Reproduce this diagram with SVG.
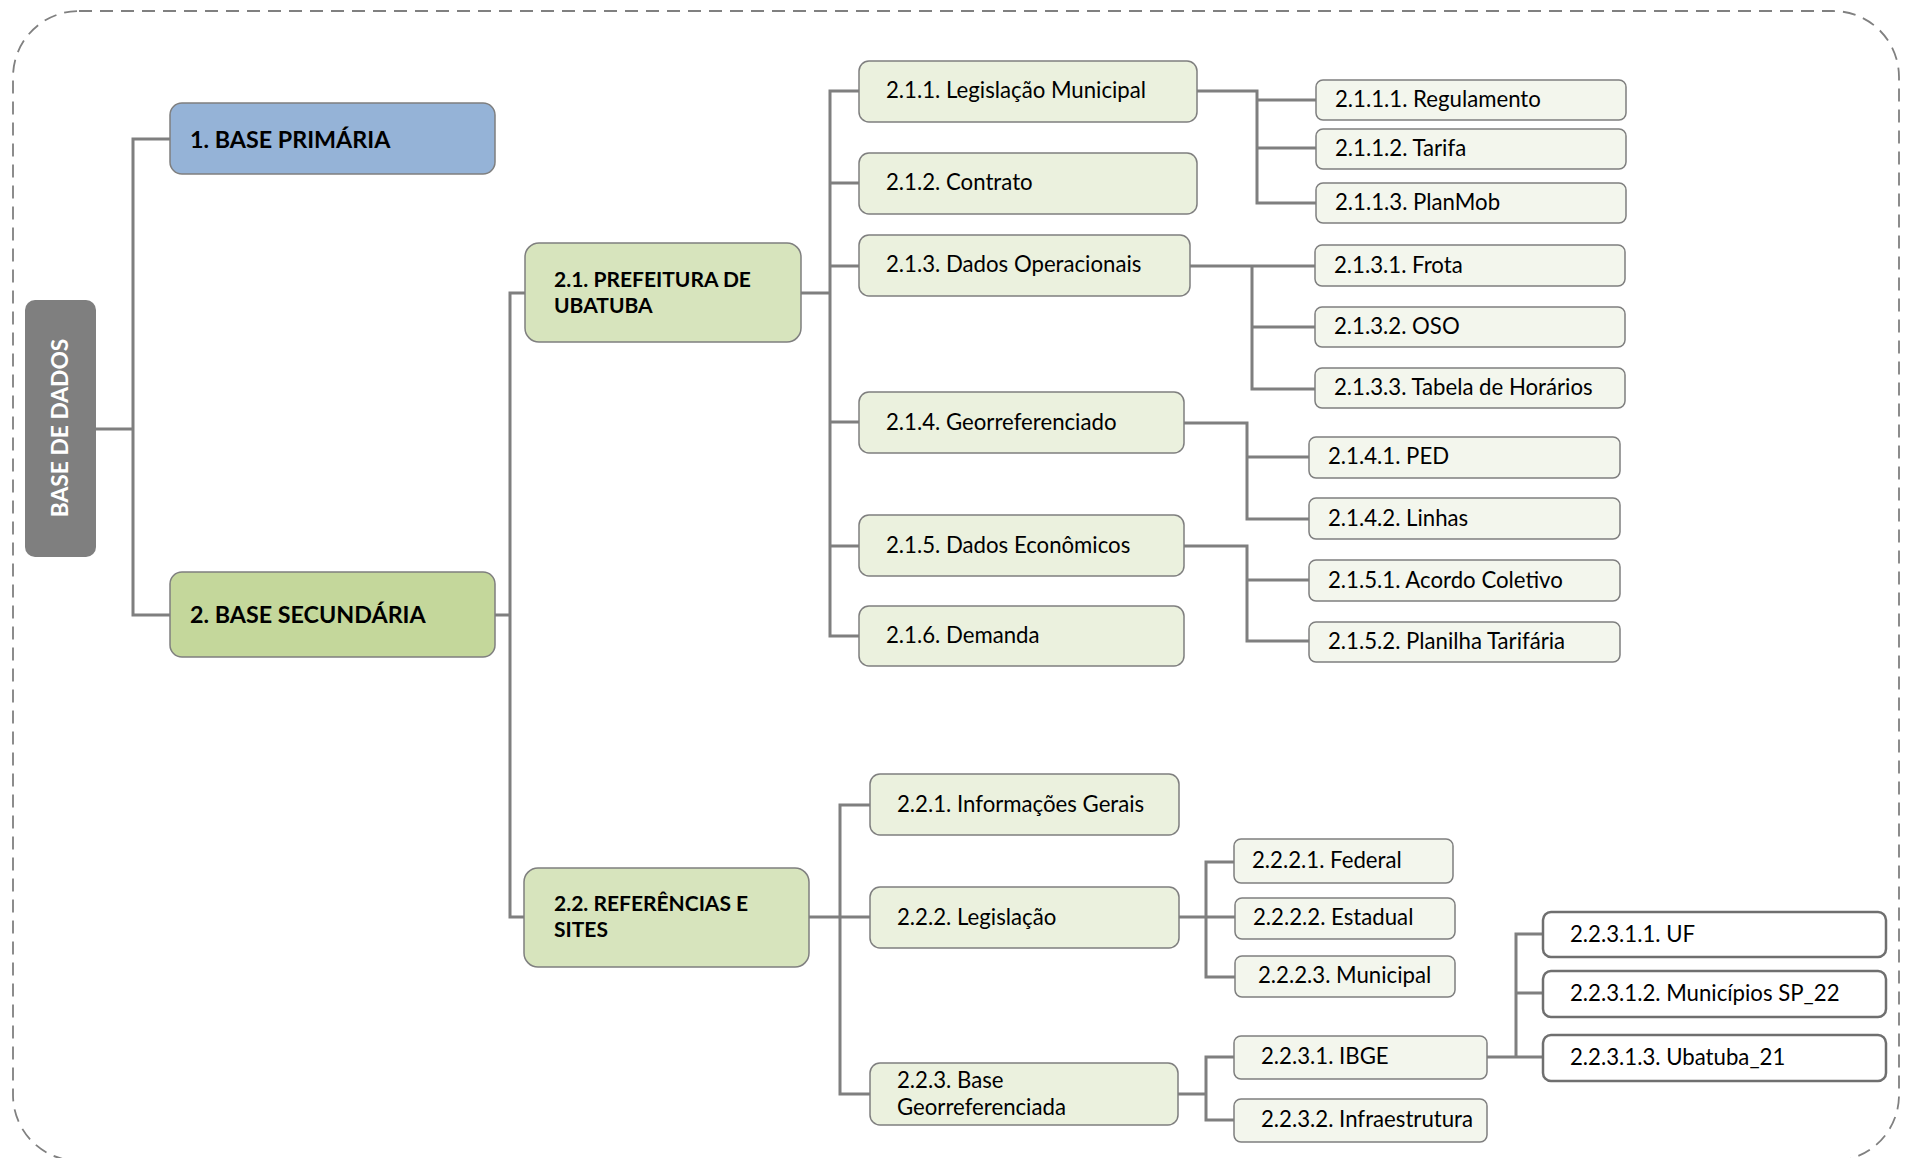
<svg xmlns="http://www.w3.org/2000/svg" width="1907" height="1158" viewBox="0 0 1907 1158">
<style>
.t{font-family:Lato,"Open Sans","Liberation Sans",sans-serif;font-size:22.2px;fill:#000}
.b{font-weight:bold;font-size:21px}
.l1{font-size:23.3px}
.box{stroke:#7f7f7f;stroke-width:1.5}
.l3{fill:#ebf1de}
.l4{fill:#f3f6ed}
.l5{fill:#ffffff;stroke:#6f6f6f;stroke-width:2.5}
.c{fill:none;stroke:#7f7f7f;stroke-width:3}
</style>
<rect x="13" y="11" width="1886" height="1150" rx="66" ry="66" fill="none" stroke="#808080" stroke-width="1.8" stroke-dasharray="13 8"/>
<g id="connectors">
<path class="c" d="M96,429 H133 M170,139 H133 V615 H170"/>
<path class="c" d="M495,615 H510 M525,293 H510 V917 H524"/>
<path class="c" d="M801,293 H830 M859,91 H830 V636 H859 M830,183 H859 M830,266 H859 M830,422 H859 M830,546 H859"/>
<path class="c" d="M1197,91 H1257 V203 H1316 M1257,100 H1316 M1257,148 H1316"/>
<path class="c" d="M1190,266 H1315 M1252,266 V389 H1315 M1252,327 H1315"/>
<path class="c" d="M1183,423 H1247 V519 H1309 M1247,457 H1309"/>
<path class="c" d="M1183,546 H1247 V641 H1309 M1247,580 H1309"/>
<path class="c" d="M809,917 H870 M870,805 H840 V1094 H870"/>
<path class="c" d="M1179,917 H1235 M1234,862 H1206 V977 H1235"/>
<path class="c" d="M1178,1094 H1206 M1234,1057 H1206 V1120 H1234"/>
<path class="c" d="M1487,1057 H1543 M1543,934 H1516 V1057 M1516,993 H1543"/>
</g>
<g id="base-de-dados"><rect x="25" y="300" width="71" height="257" rx="10" fill="#7f7f7f"/><text class="t b" x="0" y="0" text-anchor="middle" style="fill:#fff;font-size:22.8px" transform="translate(68,428) rotate(-90)">BASE DE DADOS</text></g>
<g id="n1"><rect class="box" x="170" y="103" width="325" height="71" rx="12" fill="#95b3d7"/><text class="t b l1" x="190" y="148">1. BASE PRIMÁRIA</text></g>
<g id="n2"><rect class="box" x="170" y="572" width="325" height="85" rx="12" fill="#c4d79b"/><text class="t b l1" x="190" y="623">2. BASE SECUNDÁRIA</text></g>
<g id="n21"><rect class="box" x="525" y="243" width="276" height="99" rx="14" fill="#d7e4bd"/><text class="t b" x="554" y="287">2.1. PREFEITURA DE</text><text class="t b" x="554" y="313">UBATUBA</text></g>
<g id="n22"><rect class="box" x="524" y="868" width="285" height="99" rx="14" fill="#d7e4bd"/><text class="t b" x="554" y="911">2.2. REFERÊNCIAS E</text><text class="t b" x="554" y="937">SITES</text></g>
<g id="n211"><rect class="box l3" x="859" y="61" width="338" height="61" rx="10"/><text class="t" x="886" y="98">2.1.1. Legislação Municipal</text></g>
<g id="n212"><rect class="box l3" x="859" y="153" width="338" height="61" rx="10"/><text class="t" x="886" y="190">2.1.2. Contrato</text></g>
<g id="n213"><rect class="box l3" x="859" y="235" width="331" height="61" rx="10"/><text class="t" x="886" y="272">2.1.3. Dados Operacionais</text></g>
<g id="n214"><rect class="box l3" x="859" y="392" width="325" height="61" rx="10"/><text class="t" x="886" y="430">2.1.4. Georreferenciado</text></g>
<g id="n215"><rect class="box l3" x="859" y="515" width="325" height="61" rx="10"/><text class="t" x="886" y="553">2.1.5. Dados Econômicos</text></g>
<g id="n216"><rect class="box l3" x="859" y="606" width="325" height="60" rx="10"/><text class="t" x="886" y="643">2.1.6. Demanda</text></g>
<g id="n221"><rect class="box l3" x="870" y="774" width="309" height="61" rx="10"/><text class="t" x="897" y="812">2.2.1. Informações Gerais</text></g>
<g id="n222"><rect class="box l3" x="870" y="887" width="309" height="61" rx="10"/><text class="t" x="897" y="925">2.2.2. Legislação</text></g>
<g id="n223"><rect class="box l3" x="870" y="1063" width="308" height="62" rx="10"/><text class="t" x="897" y="1088">2.2.3. Base</text><text class="t" x="897" y="1115">Georreferenciada</text></g>
<g id="n2111"><rect class="box l4" x="1316" y="80" width="310" height="40" rx="7"/><text class="t" x="1335" y="107">2.1.1.1. Regulamento</text></g>
<g id="n2112"><rect class="box l4" x="1316" y="129" width="310" height="40" rx="7"/><text class="t" x="1335" y="156">2.1.1.2. Tarifa</text></g>
<g id="n2113"><rect class="box l4" x="1316" y="183" width="310" height="40" rx="7"/><text class="t" x="1335" y="210">2.1.1.3. PlanMob</text></g>
<g id="n2131"><rect class="box l4" x="1315" y="245" width="310" height="41" rx="7"/><text class="t" x="1334" y="273">2.1.3.1. Frota</text></g>
<g id="n2132"><rect class="box l4" x="1315" y="307" width="310" height="40" rx="7"/><text class="t" x="1334" y="334">2.1.3.2. OSO</text></g>
<g id="n2133"><rect class="box l4" x="1315" y="368" width="310" height="40" rx="7"/><text class="t" x="1334" y="395">2.1.3.3. Tabela de Horários</text></g>
<g id="n2141"><rect class="box l4" x="1309" y="437" width="311" height="41" rx="7"/><text class="t" x="1328" y="464">2.1.4.1. PED</text></g>
<g id="n2142"><rect class="box l4" x="1309" y="498" width="311" height="41" rx="7"/><text class="t" x="1328" y="526">2.1.4.2. Linhas</text></g>
<g id="n2151"><rect class="box l4" x="1309" y="560" width="311" height="41" rx="7"/><text class="t" x="1328" y="588">2.1.5.1. Acordo Coletivo</text></g>
<g id="n2152"><rect class="box l4" x="1309" y="622" width="311" height="40" rx="7"/><text class="t" x="1328" y="649">2.1.5.2. Planilha Tarifária</text></g>
<g id="n2221"><rect class="box l4" x="1234" y="839" width="219" height="44" rx="7"/><text class="t" x="1252" y="868">2.2.2.1. Federal</text></g>
<g id="n2222"><rect class="box l4" x="1235" y="898" width="220" height="41" rx="7"/><text class="t" x="1253" y="925">2.2.2.2. Estadual</text></g>
<g id="n2223"><rect class="box l4" x="1235" y="956" width="220" height="41" rx="7"/><text class="t" x="1258" y="983">2.2.2.3. Municipal</text></g>
<g id="n2231"><rect class="box l4" x="1234" y="1036" width="253" height="43" rx="7"/><text class="t" x="1261" y="1064">2.2.3.1. IBGE</text></g>
<g id="n2232"><rect class="box l4" x="1234" y="1099" width="253" height="43" rx="7"/><text class="t" x="1261" y="1127">2.2.3.2. Infraestrutura</text></g>
<g id="n22311"><rect class="box l5" x="1543" y="912" width="343" height="45" rx="8"/><text class="t" x="1570" y="942">2.2.3.1.1. UF</text></g>
<g id="n22312"><rect class="box l5" x="1543" y="971" width="343" height="46" rx="8"/><text class="t" x="1570" y="1001">2.2.3.1.2. Municípios SP_22</text></g>
<g id="n22313"><rect class="box l5" x="1543" y="1035" width="343" height="46" rx="8"/><text class="t" x="1570" y="1065">2.2.3.1.3. Ubatuba_21</text></g>
</svg>
